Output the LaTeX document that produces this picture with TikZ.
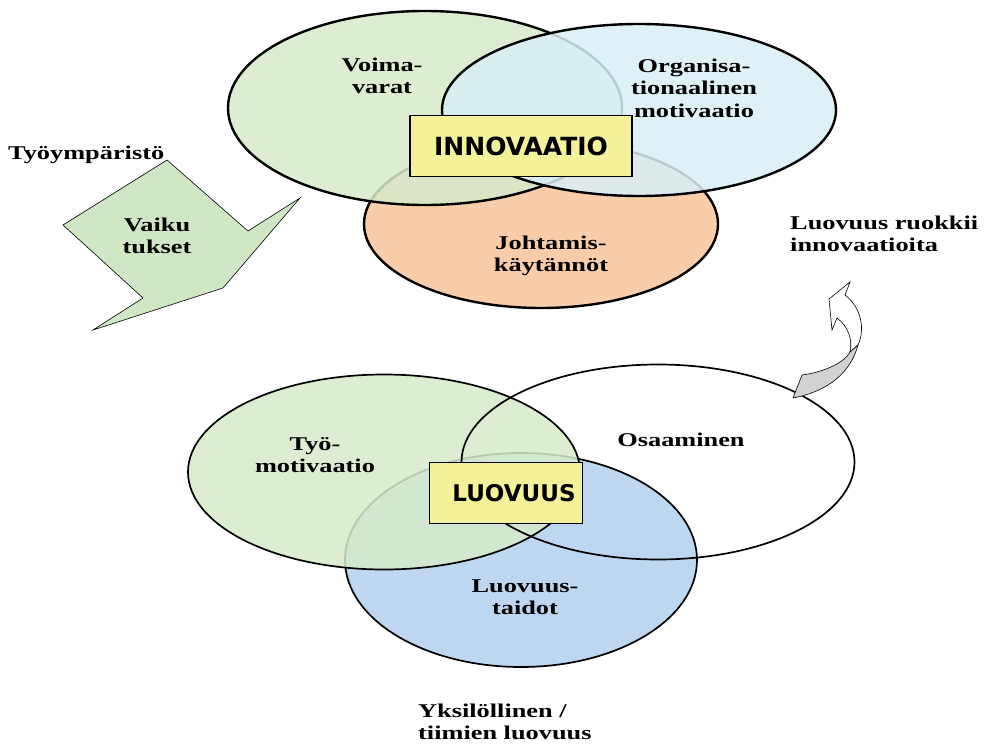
\documentclass[tikz,border=0pt]{standalone}
\usepackage{fontspec}
\setmainfont{Liberation Serif}[FakeStretch=1.35]
\setsansfont{DejaVu Sans}
\usetikzlibrary{shapes.geometric,positioning}
\definecolor{setgreen}{HTML}{D6EACB}
\definecolor{setcyan}{HTML}{D9EFF6}
\definecolor{setorange}{HTML}{F8C49C}
\definecolor{setblue}{HTML}{B3D1EF}
\definecolor{boxyellow}{HTML}{F5F19B}
\definecolor{arrowgreen}{HTML}{CFE7C4}
\tikzset{
  circ/.style   = {ellipse, draw, inner sep=0pt, fill opacity=0.85, text opacity=1},
  bigcirc/.style = {circ, line width=2.4pt},
  smallcirc/.style = {circ, line width=1.7pt},
  title/.style  = {draw, line width=1.3pt, fill=boxyellow, font=\sffamily\bfseries,
                   inner xsep=3pt, inner ysep=3pt},
  lbl/.style    = {font=\bfseries\fontsize{19.5}{22.5}\selectfont, align=center},
  note/.style   = {font=\bfseries\fontsize{19.5}{22}\selectfont, align=left, anchor=north west,
                   inner sep=0pt}
}
\begin{document}
\begin{tikzpicture}[x=1pt,y=-1pt]
\useasboundingbox[fill=white] (0,0) rectangle (986,744);

% upper cluster: innovation
\node[bigcirc, fill=setorange, minimum width=354pt, minimum height=168pt] (johto) at (541,224) {};
\node[bigcirc, fill=setgreen, minimum width=394pt, minimum height=194pt] (voima) at (425,108) {};
\node[bigcirc, fill=setcyan, minimum width=394pt, minimum height=172pt] (orga) at (639,110) {};

\node[lbl] (voimalbl) at (382,76) {Voima-\\varat};
\node[lbl] (orgalbl) at (694,88) {Organisa-\\tionaalinen\\motivaatio};
\node[lbl] (johtolbl) at (551,256) {Johtamis-\\käytännöt};
\node[title, minimum width=222pt, minimum height=61pt, font=\sffamily\bfseries\fontsize{25}{29}\selectfont]
  (innov) at (521,146) {INNOVAATIO};

% lower cluster: creativity
\node[smallcirc, fill=setblue, minimum width=352pt, minimum height=214pt] (taidot) at (521,560) {};
\node[smallcirc, fill=setgreen, minimum width=392pt, minimum height=195pt] (tyomot) at (384,472) {};
\node[smallcirc, minimum width=393pt, minimum height=195pt] (osaam) at (658,462) {};

\node[lbl] (tyolbl) at (315,455) {Työ-\\motivaatio};
\node[lbl] (osaamlbl) at (681,440) {Osaaminen};
\node[lbl] (taidotlbl) at (525,597) {Luovuus-\\taidot};
\node[title, minimum width=153pt, minimum height=61pt, font=\sffamily\bfseries\fontsize{23}{27}\selectfont]
  (luov) at (506,493) {\hspace*{16pt}LUOVUUS};

% environment arrow on the left
\node[note] (ymp) at (8,146) {Työympäristö};
\draw[fill=arrowgreen, line width=0.6pt] (167,160) -- (248,231) -- (300,198) -- (223,288)
  -- (93,330) -- (143,298) -- (63,225) -- cycle;
\node[lbl] (vaik) at (157,236) {Vaiku\\tukset};

% curved arrow on the right
\node[note] (ruokkii) at (790,216) {Luovuus ruokkii\\innovaatioita};
\draw[fill=white, line width=0.6pt] (845,295) -- (850,282) -- (829,299) -- (832,330) -- (837,318)
  .. controls (848,326) and (853,340) .. (850,352) -- (858,345)
  .. controls (865,330) and (862,308) .. (845,295) -- cycle;
\draw[fill=gray!35, line width=0.6pt] (802,375) .. controls (825,372) and (845,362) .. (850,352)
  -- (858,345) .. controls (850,375) and (825,392) .. (793,398) -- cycle;

\node[note] (yksil) at (418,704) {Yksilöllinen /\\tiimien luovuus};
\end{tikzpicture}
\end{document}
